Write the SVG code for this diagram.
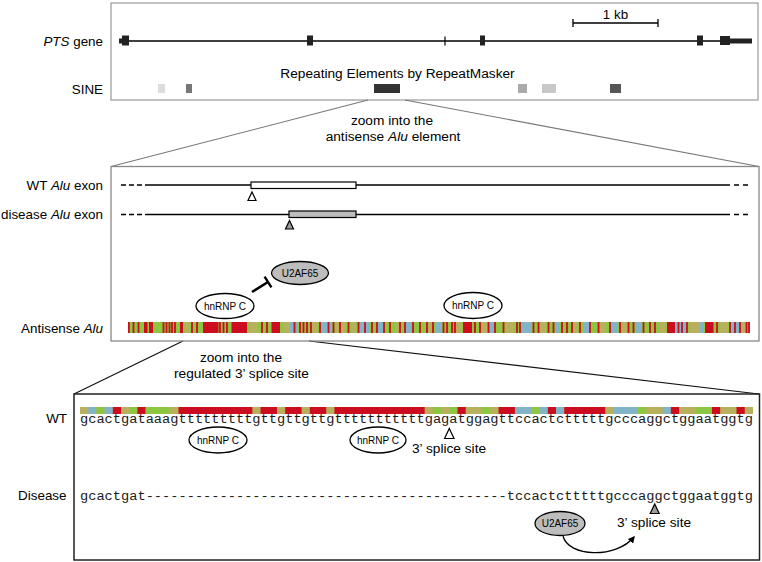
<svg xmlns="http://www.w3.org/2000/svg" width="762" height="562" viewBox="0 0 762 562">
<style>
text{font-family:"Liberation Sans",Arial,sans-serif;fill:#000}
.lbl{font-size:13.4px;text-anchor:end}
.cap{font-size:13.7px}
.ctr{text-anchor:middle}
.it{font-style:italic}
.seq{font-family:"Liberation Mono","Courier New",monospace;font-size:13.7px;fill:#1a1a1a}
.prot{font-size:10px;text-anchor:middle}
.ell{fill:#fff;stroke:#000;stroke-width:1.3}
.ellg{fill:#bdbdbd;stroke:#000;stroke-width:1.3}
.r{fill:#cc0d20}.g{fill:#8dc641}.b{fill:#82b4c8}.o{fill:#b8b05c}
.exon{fill:#222}
.zoomg{stroke:#777;stroke-width:1.1;fill:none}
.zoomk{stroke:#111;stroke-width:1.2;fill:none}
</style>
<defs>
<marker id="ah" viewBox="0 0 10 10" refX="8" refY="5" markerWidth="7" markerHeight="7" orient="auto" markerUnits="userSpaceOnUse">
<path d="M0,0L10,5L0,10z" fill="#000"/>
</marker>
</defs>

<g id="panel-gene">
<rect x="111" y="3" width="647" height="97" fill="none" stroke="#999" stroke-width="1.2"/>
<text class="lbl" x="103" y="46"><tspan class="it">PTS</tspan> gene</text>
<text class="lbl" x="103" y="94">SINE</text>
<line x1="119" y1="41" x2="752" y2="41" stroke="#000" stroke-width="1.6"/>
<rect class="exon" x="119" y="38.5" width="4" height="5"/>
<rect class="exon" x="122" y="35.5" width="7" height="10"/>
<rect class="exon" x="307" y="35.5" width="6" height="10"/>
<line x1="445" y1="36.5" x2="445" y2="45.5" stroke="#000" stroke-width="1.2"/>
<rect class="exon" x="480" y="35.5" width="5" height="10"/>
<rect class="exon" x="697" y="35.5" width="6" height="10"/>
<rect class="exon" x="720" y="36" width="10" height="9"/>
<rect class="exon" x="729" y="38.5" width="23" height="5"/>
<line x1="573" y1="23" x2="658" y2="23" stroke="#000" stroke-width="1.6"/>
<line x1="573" y1="19" x2="573" y2="27" stroke="#000" stroke-width="1.3"/>
<line x1="658" y1="19" x2="658" y2="27" stroke="#000" stroke-width="1.3"/>
<text class="ctr" x="615.5" y="19" font-size="13.4">1 kb</text>
<text class="ctr cap" x="397.5" y="78">Repeating Elements by RepeatMasker</text>
<rect x="158" y="84" width="7" height="9" fill="#dcdcdc"/>
<rect x="186" y="84" width="6" height="9" fill="#777"/>
<rect x="374" y="84" width="26" height="9" fill="#333"/>
<rect x="518" y="84" width="9" height="9" fill="#aaa"/>
<rect x="542" y="84" width="14" height="9" fill="#c8c8c8"/>
<rect x="610" y="84" width="11" height="9" fill="#555"/>
</g>

<g id="connectors">
<path class="zoomg" d="M368,100L111,166.5M405,100L759,166.5"/>
<path class="zoomk" d="M183,341L74,394M309,341L759,394"/>
<path d="M252,292L268,282" stroke="#000" stroke-width="2.6" fill="none"/>
<path d="M264.6,276.7L271.4,287.3" stroke="#000" stroke-width="2.4" fill="none"/>
<path d="M563,536C568,557 616,559 634,537" stroke="#000" stroke-width="1.3" fill="none" marker-end="url(#ah)"/>
</g>

<g id="caption-1">
<text class="ctr cap" x="392" y="125">zoom into the</text>
<text class="ctr cap" x="393" y="141">antisense <tspan class="it">Alu</tspan> element</text>
</g>

<g id="panel-alu">
<rect x="111" y="166.5" width="648" height="174.5" fill="none" stroke="#888" stroke-width="1.3"/>
<text class="lbl" x="103" y="190">WT <tspan class="it">Alu</tspan> exon</text>
<text class="lbl" x="103" y="219">disease <tspan class="it">Alu</tspan> exon</text>
<text class="lbl" x="103" y="333">Antisense <tspan class="it">Alu</tspan></text>
<g stroke="#000" stroke-width="1.6" fill="none">
<path d="M121,185H145" stroke-dasharray="5,3"/>
<path d="M145,185H730"/>
<path d="M730,185H751" stroke-dasharray="5,4" stroke-dashoffset="-4"/>
<path d="M121,214.5H145" stroke-dasharray="5,3"/>
<path d="M145,214.5H730"/>
<path d="M730,214.5H751" stroke-dasharray="5,4" stroke-dashoffset="-4"/>
</g>
<rect x="251" y="182" width="105" height="6.5" fill="#fff" stroke="#000" stroke-width="1.2"/>
<path d="M252,192L256,200.5H248z" fill="#fff" stroke="#000" stroke-width="1.2"/>
<rect x="289" y="211" width="67" height="6.5" fill="#bdbdbd" stroke="#000" stroke-width="1.2"/>
<path d="M289.5,220.5L293.5,229H285.5z" fill="#9a9a9a" stroke="#000" stroke-width="1.2"/>
</g>

<g id="node-hnrnpc-1">
<ellipse class="ell" cx="225" cy="306" rx="29" ry="12.5"/>
<text class="prot" x="225" y="309.5">hnRNP C</text>
</g>
<g id="node-u2af65-1">
<ellipse class="ellg" cx="300" cy="273" rx="28.5" ry="11.5"/>
<text class="prot" x="300" y="276.5">U2AF65</text>
</g>
<g id="node-hnrnpc-2">
<ellipse class="ell" cx="473" cy="305.5" rx="29" ry="13"/>
<text class="prot" x="473" y="309">hnRNP C</text>
</g>

<g id="alu-bar">
<rect class="g" x="128" y="322" width="622" height="11"/>
<g class="o">
<rect x="185" y="322" width="5" height="11"/><rect x="250" y="322" width="8" height="11"/>
<rect x="283" y="322" width="7" height="11"/><rect x="312" y="322" width="6" height="11"/>
<rect x="335" y="322" width="10" height="11"/><rect x="352" y="322" width="4" height="11"/>
<rect x="395" y="322" width="4" height="11"/><rect x="425" y="322" width="7" height="11"/>
<rect x="456" y="322" width="6" height="11"/><rect x="482" y="322" width="5" height="11"/>
<rect x="505" y="322" width="9" height="11"/><rect x="540" y="322" width="6" height="11"/>
<rect x="573" y="322" width="5" height="11"/><rect x="600" y="322" width="6" height="11"/>
<rect x="622" y="322" width="5" height="11"/><rect x="660" y="322" width="5" height="11"/>
<rect x="690" y="322" width="10" height="11"/><rect x="720" y="322" width="8" height="11"/>
<rect x="742" y="322" width="4" height="11"/>
</g>
<g class="b">
<rect x="290" y="322" width="8" height="11"/><rect x="322" y="322" width="10" height="11"/>
<rect x="360" y="322" width="10" height="11"/><rect x="378" y="322" width="5" height="11"/>
<rect x="406" y="322" width="6" height="11"/><rect x="436" y="322" width="6" height="11"/>
<rect x="489" y="322" width="5" height="11"/><rect x="522" y="322" width="9" height="11"/>
<rect x="555" y="322" width="5" height="11"/><rect x="583" y="322" width="6" height="11"/>
<rect x="612" y="322" width="6" height="11"/><rect x="636" y="322" width="6" height="11"/>
<rect x="676" y="322" width="10" height="11"/><rect x="700" y="322" width="4" height="11"/>
<rect x="731" y="322" width="8" height="11"/>
</g>
<g class="r">
<rect x="144" y="322" width="3.5" height="11"/><rect x="149" y="322" width="4" height="11"/>
<rect x="180" y="322" width="3" height="11"/><rect x="203" y="322" width="15.5" height="11"/>
<rect x="231.5" y="322" width="15.5" height="11"/><rect x="271.5" y="322" width="8.5" height="11"/>
<rect x="463" y="322" width="9" height="11"/><rect x="667" y="322" width="8" height="11"/>
<rect x="705" y="322" width="8.5" height="11"/>
</g>
<path stroke="#cc0d20" stroke-width="1.8" fill="none" d="M128.9,322v11M133.5,322v11M138.5,322v11M163.5,322v11M166.5,322v11M169.5,322v11M172,322v11M175,322v11M192,322v11M197,322v11M220,322v11M223.5,322v11M227,322v11M262,322v11M267,322v11M294.5,322v11M300,322v11M303.5,322v11M307,322v11M311,322v11M320,322v11M328.5,322v11M333.5,322v11M340,322v11M348.5,322v11M358.5,322v11M365,322v11M372,322v11M377,322v11M384,322v11M390,322v11M400,322v11M405,322v11M413,322v11M420,322v11M427,322v11M433,322v11M443.5,322v11M447,322v11M452,322v11M455,322v11M475,322v11M480,322v11M488.5,322v11M495,322v11M503.5,322v11M517,322v11M520,322v11M533.5,322v11M538.5,322v11M548.5,322v11M553.5,322v11M562,322v11M567,322v11M572,322v11M580,322v11M590,322v11M598.5,322v11M610,322v11M620,322v11M628.5,322v11M633.5,322v11M643.5,322v11M650,322v11M655,322v11M678.5,322v11M682,322v11M687,322v11M717,322v11M730,322v11M735,322v11M740,322v11M746.5,322v11M749,322v11"/>
</g>

<g id="caption-2">
<text class="ctr cap" x="241" y="362">zoom into the</text>
<text class="ctr cap" x="241.5" y="378">regulated 3’ splice site</text>
</g>

<g id="panel-splice">
<rect x="74" y="394" width="685.5" height="166" fill="none" stroke="#222" stroke-width="1.5"/>
<text class="lbl" x="67" y="423">WT</text>
<text class="lbl" x="66.5" y="500">Disease</text>
<g id="wt-bar">
<rect class="o" x="80" y="407" width="673" height="7"/>
<rect class="b" x="88.21" y="407" width="8.2" height="7"/>
<rect class="g" x="96.41" y="407" width="8.21" height="7"/>
<rect class="b" x="104.62" y="407" width="8.21" height="7"/>
<rect class="r" x="112.83" y="407" width="8.21" height="7"/>
<rect class="g" x="129.24" y="407" width="8.21" height="7"/>
<rect class="r" x="137.45" y="407" width="8.21" height="7"/>
<rect class="g" x="145.66" y="407" width="24.62" height="7"/>
<rect class="r" x="178.48" y="407" width="73.87" height="7"/>
<rect class="r" x="260.55" y="407" width="16.42" height="7"/>
<rect class="r" x="285.18" y="407" width="16.41" height="7"/>
<rect class="r" x="309.8" y="407" width="16.41" height="7"/>
<rect class="r" x="334.42" y="407" width="90.27" height="7"/>
<rect class="g" x="432.9" y="407" width="8.21" height="7"/>
<rect class="g" x="449.32" y="407" width="8.2" height="7"/>
<rect class="r" x="457.52" y="407" width="8.21" height="7"/>
<rect class="g" x="482.14" y="407" width="8.21" height="7"/>
<rect class="r" x="498.56" y="407" width="16.41" height="7"/>
<rect class="b" x="514.97" y="407" width="16.42" height="7"/>
<rect class="g" x="531.39" y="407" width="8.2" height="7"/>
<rect class="b" x="539.59" y="407" width="8.21" height="7"/>
<rect class="r" x="547.8" y="407" width="8.21" height="7"/>
<rect class="b" x="556.01" y="407" width="8.2" height="7"/>
<rect class="r" x="564.21" y="407" width="41.04" height="7"/>
<rect class="b" x="613.46" y="407" width="24.62" height="7"/>
<rect class="g" x="638.08" y="407" width="8.2" height="7"/>
<rect class="b" x="662.7" y="407" width="8.2" height="7"/>
<rect class="r" x="670.9" y="407" width="8.21" height="7"/>
<rect class="g" x="695.53" y="407" width="16.41" height="7"/>
<rect class="r" x="711.94" y="407" width="8.21" height="7"/>
<rect class="r" x="736.56" y="407" width="8.21" height="7"/>
</g>
<text class="seq" x="80" y="423" textLength="673" lengthAdjust="spacing">gcactgataaagtttttttttgttgttgttgtttttttttttgagatggagttccactctttttgcccaggctggaatggtg</text>
<text class="seq" x="80" y="500" textLength="673" lengthAdjust="spacing">gcactgat--------------------------------------------tccactctttttgcccaggctggaatggtg</text>
<path d="M449.3,428.5L454,438.5H444.6z" fill="#fff" stroke="#000" stroke-width="1.2"/>
<text class="cap" x="412" y="453">3’ splice site</text>
<path d="M654.7,504L659.2,513.5H650.2z" fill="#9a9a9a" stroke="#000" stroke-width="1.2"/>
<text class="cap" x="617" y="527">3’ splice site</text>
</g>

<g id="node-hnrnpc-3">
<ellipse class="ell" cx="218" cy="440" rx="29" ry="13"/>
<text class="prot" x="218" y="443.5">hnRNP C</text>
</g>
<g id="node-hnrnpc-4">
<ellipse class="ell" cx="378" cy="440" rx="28" ry="13"/>
<text class="prot" x="378" y="443.5">hnRNP C</text>
</g>
<g id="node-u2af65-2">
<ellipse class="ellg" cx="560" cy="523.5" rx="25" ry="12"/>
<text class="prot" x="560" y="526.5" font-size="8.5">U2AF65</text>
</g>
</svg>
